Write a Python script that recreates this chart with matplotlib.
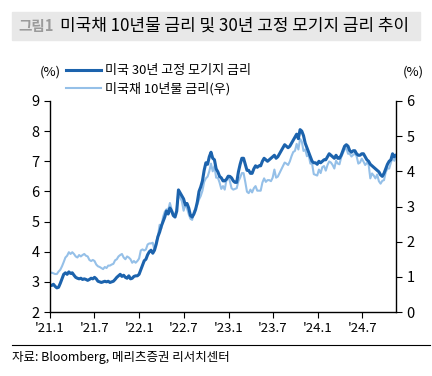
import numpy as np
import pandas as pd
import matplotlib
matplotlib.use("Agg")
import matplotlib.pyplot as plt
import matplotlib.dates as mdates

plt.rcParams['font.family'] = ['Noto Sans CJK KR', 'DejaVu Sans']

# weekly readings (Fridays) from 2021-01-01
mortgage = [
    # 2021
    2.90, 2.88, 2.92, 2.85, 2.80, 2.82, 2.95, 3.10, 3.25, 3.30, 3.25, 3.33, 3.28,
    3.30, 3.22, 3.15, 3.12, 3.10, 3.12, 3.08, 3.10, 3.08, 3.05, 3.08, 3.12, 3.10,
    3.15, 3.10, 3.02, 3.00, 2.98, 3.00, 3.02, 3.00, 3.02, 2.98, 3.00, 3.02, 3.08,
    3.15, 3.20, 3.25, 3.18, 3.22, 3.15, 3.12, 3.20, 3.10, 3.12, 3.18, 3.20, 3.20, 3.25,
    # 2022
    3.40, 3.55, 3.70, 3.75, 3.90, 4.00, 4.05, 3.95, 4.05, 4.25, 4.50, 4.65,
    4.85, 5.00, 5.15, 5.35, 5.25, 5.45, 5.35, 5.20, 5.15, 5.35, 6.05, 5.95, 5.85,
    5.75, 5.55, 5.60, 5.45, 5.20, 5.15, 5.25, 5.40, 5.65, 6.00, 6.15, 6.35, 6.70, 6.95,
    6.90, 7.15, 7.30, 7.10, 7.05, 6.75, 6.65, 6.50, 6.45, 6.35, 6.35, 6.40, 6.50,
    # 2023
    6.50, 6.45, 6.35, 6.30, 6.30, 6.65, 6.90, 7.10, 7.10, 6.90, 6.70, 6.70, 6.60,
    6.60, 6.75, 6.85, 6.80, 6.85, 6.85, 7.00, 7.10, 7.05, 7.00, 7.05, 7.10, 7.15,
    7.20, 7.10, 7.15, 7.25, 7.35, 7.45, 7.55, 7.50, 7.45, 7.50, 7.60, 7.70, 7.80,
    7.90, 7.75, 8.05, 8.00, 7.85, 7.60, 7.45, 7.30, 7.15, 7.00, 6.95, 6.95, 6.90,
    # 2024
    7.00, 6.95, 7.00, 7.05, 7.05, 7.15, 7.25, 7.20, 7.15, 7.10, 7.20, 7.10, 7.10,
    7.20, 7.35, 7.50, 7.55, 7.50, 7.35, 7.30, 7.35, 7.35, 7.25, 7.20, 7.20, 7.25,
    7.25, 7.15, 7.05, 7.00, 6.90, 6.85, 6.80, 6.75, 6.70, 6.65, 6.55, 6.50, 6.60,
    6.75, 6.90, 7.00, 7.05, 7.25, 7.15, 7.20,
]

ust10 = [
    # 2021
    1.10, 1.12, 1.10, 1.08, 1.08, 1.15, 1.20, 1.30, 1.42, 1.55, 1.60, 1.70, 1.65,
    1.70, 1.65, 1.58, 1.55, 1.62, 1.58, 1.62, 1.65, 1.60, 1.58, 1.48, 1.45, 1.48,
    1.45, 1.35, 1.30, 1.28, 1.25, 1.22, 1.28, 1.25, 1.32, 1.32, 1.35, 1.37, 1.47,
    1.50, 1.58, 1.62, 1.65, 1.55, 1.50, 1.58, 1.55, 1.50, 1.40, 1.45, 1.40, 1.45, 1.52,
    # 2022
    1.75, 1.78, 1.75, 1.78, 1.92, 1.95, 1.95, 1.97, 1.75, 2.00, 2.15, 2.48,
    2.38, 2.70, 2.85, 2.92, 2.90, 3.10, 2.92, 2.80, 2.75, 2.95, 3.45, 3.25, 3.15,
    2.88, 3.05, 2.95, 2.78, 2.65, 2.62, 2.85, 2.95, 3.05, 3.20, 3.30, 3.45, 3.70, 3.80,
    3.85, 4.00, 4.22, 4.00, 4.15, 3.82, 3.82, 3.68, 3.50, 3.58, 3.48, 3.75, 3.88,
    # 2023
    3.72, 3.52, 3.48, 3.50, 3.52, 3.72, 3.82, 3.95, 3.95, 3.70, 3.42, 3.38, 3.48,
    3.40, 3.52, 3.58, 3.45, 3.45, 3.45, 3.68, 3.80, 3.70, 3.75, 3.75, 3.72, 3.82,
    4.05, 3.82, 3.85, 3.95, 4.05, 4.15, 4.25, 4.22, 4.18, 4.28, 4.43, 4.55, 4.58,
    4.78, 4.62, 4.92, 4.85, 4.58, 4.62, 4.43, 4.47, 4.22, 4.22, 3.92, 3.90, 3.88,
    # 2024
    4.05, 3.95, 4.12, 4.15, 4.02, 4.18, 4.28, 4.25, 4.18, 4.08, 4.30, 4.22, 4.20,
    4.40, 4.52, 4.62, 4.67, 4.50, 4.50, 4.42, 4.47, 4.50, 4.43, 4.22, 4.25, 4.36,
    4.28, 4.18, 4.24, 4.20, 3.80, 3.94, 3.88, 3.80, 3.91, 3.72, 3.65, 3.73, 3.75,
    3.98, 4.08, 4.08, 4.24, 4.38, 4.30, 4.43,
]

dates_m = pd.date_range('2021-01-01', periods=len(mortgage), freq='W-FRI')
dates_t = pd.date_range('2021-01-01', periods=len(ust10), freq='W-FRI')

tick_dates = pd.to_datetime(['2021-01-01', '2021-07-01', '2022-01-01', '2022-07-01',
                             '2023-01-01', '2023-07-01', '2024-01-01', '2024-07-01'])
tick_labels = ["'21.1", "'21.7", "'22.1", "'22.7", "'23.1", "'23.7", "'24.1", "'24.7"]

dark = '#1c63ad'
light = '#95c0e8'

fig = plt.figure(figsize=(4.32, 3.76), dpi=100)
ax = fig.add_axes([50/432, 1-312/376, 346/432, 211/376])
ax2 = ax.twinx()

l2, = ax2.plot(dates_t, ust10, color=light, lw=1.5, label='미국채 10년물 금리(우)')
l1, = ax.plot(dates_m, mortgage, color=dark, lw=2.2, label='미국 30년 고정 모기지 금리')
ax.set_zorder(ax2.get_zorder() + 1)
ax.patch.set_visible(False)

ax.set_ylim(2, 9)
ax.set_yticks(range(2, 10))
ax2.set_ylim(0, 6)
ax2.set_yticks(range(0, 7))
ax.set_xlim(pd.Timestamp('2021-01-01'), pd.Timestamp('2024-11-15'))
ax.set_xticks(tick_dates)
ax.set_xticklabels(tick_labels)

for a in (ax, ax2):
    a.spines['top'].set_visible(False)
    for s in a.spines.values():
        s.set_linewidth(1.0)
        s.set_color('black')
    a.tick_params(axis='both', length=4, width=0.8, labelsize=10.5, colors='black')
ax2.spines['left'].set_visible(False)
ax.spines['right'].set_visible(False)
ax2.spines['bottom'].set_visible(False)
ax.tick_params(axis='x', labelsize=9.5, pad=3)

fig.text(40/432, 1-72/376, '(%)', fontsize=9.5, ha='left', va='center')
fig.text(413/432, 1-72/376, '(%)', fontsize=9.5, ha='center', va='center')

fig.legend(handles=[l1, l2], loc='upper left', bbox_to_anchor=(61/432, 1-59/376),
           frameon=False, fontsize=9.4, handlelength=2.7, handletextpad=0.25,
           labelspacing=0.4, borderaxespad=0)

# title bar
fig.patches.append(plt.Rectangle((12/432, 1-40/376), 408/432, 28/376,
                                 transform=fig.transFigure, color='#e8e8e8', zorder=0))
fig.text(18/432, 1-26/376, '그림1', fontsize=10.5, color='#9a9a9a', fontweight='bold',
         ha='left', va='center')
fig.text(60/432, 1-26/376, '미국채 10년물 금리 및 30년 고정 모기지 금리 추이',
         fontsize=12.2, color='black', ha='left', va='center')

# footer
fig.add_artist(plt.Line2D([12/432, 430/432], [1-345/376, 1-345/376],
                          transform=fig.transFigure, color='black', lw=0.8))
fig.text(12/432, 1-357/376, '자료: Bloomberg, 메리츠증권 리서치센터', fontsize=9,
         ha='left', va='center')

fig.savefig('out.png', dpi=100)
